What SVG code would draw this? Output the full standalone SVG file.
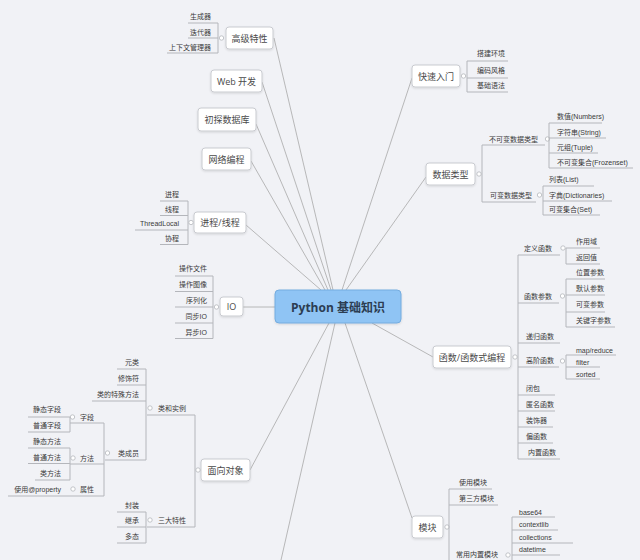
<svg xmlns="http://www.w3.org/2000/svg" width="640" height="560" viewBox="0 0 640 560">
<defs>
<style>
.topic{fill:#ffffff;stroke:#c9cbd0;stroke-width:1}
.tt{font-family:"Open Sans","Noto Sans CJK SC",sans-serif;font-size:9px;fill:#4a4a4a;text-anchor:middle;dominant-baseline:central}
.leaf{font-family:"Liberation Sans","Noto Sans CJK SC",sans-serif;font-size:7px;fill:#3a3a3a;dominant-baseline:central}
.l{text-anchor:end}
.r{text-anchor:start}
.ul{fill:none;stroke:#b4b6bb;stroke-width:1}
.cn{fill:none;stroke:#a8a8a8;stroke-width:0.8}
.knob{fill:#ffffff;stroke:#b4b6bb;stroke-width:0.8}
</style>
<filter id="sh" x="-20%" y="-20%" width="140%" height="150%">
<feDropShadow dx="0" dy="1" stdDeviation="0.8" flood-color="#000" flood-opacity="0.12"/>
</filter>
</defs>
<rect width="640" height="560" fill="#f1f2f6"/>

<g id="connectors">
<path class="cn" d="M274 38 L333 290"/>
<path class="cn" d="M262 82 L331 290"/>
<path class="cn" d="M256 124 L328 290"/>
<path class="cn" d="M251 161 L325 290"/>
<path class="cn" d="M246 225 L321 290"/>
<path class="cn" d="M243 307 L275 307"/>
<path class="cn" d="M250 470 L329 323"/>
<path class="cn" d="M335 323 L281 560"/>
<path class="cn" d="M412 78 L342 290"/>
<path class="cn" d="M426 177 L346 290"/>
<path class="cn" d="M372 323 L433 357"/>
<path class="cn" d="M345 323 L412 518"/>
</g>

<g id="center">
<rect x="275" y="290" width="126" height="33" rx="4" fill="#8fc4f4" stroke="#74acdf" stroke-width="1" filter="url(#sh)"/>
<text x="338" y="307" style="font-family:'Open Sans','Noto Sans CJK SC',sans-serif;font-size:12px;font-weight:bold;fill:#2c3d52;text-anchor:middle;dominant-baseline:central">Python 基础知识</text>
</g>

<g id="gaoji">
<rect class="topic" x="226" y="27" width="47" height="22" rx="3" filter="url(#sh)"/>
<text class="tt" x="249.5" y="38">高级特性</text>
<path class="ul" d="M188 23H218M188 38H218M167 53H218M218 23V53"/>
<circle class="knob" cx="221.5" cy="38" r="2.2"/>
<text class="leaf l" x="211" y="16">生成器</text>
<text class="leaf l" x="211" y="32">迭代器</text>
<text class="leaf l" x="211" y="47">上下文管理器</text>
</g>

<g id="web">
<rect class="topic" x="211" y="70" width="51" height="22" rx="3" filter="url(#sh)"/>
<text class="tt" x="236.5" y="81">Web 开发</text>
</g>

<g id="db">
<rect class="topic" x="198" y="108" width="58" height="23" rx="3" filter="url(#sh)"/>
<text class="tt" x="227" y="119.5">初探数据库</text>
</g>

<g id="net">
<rect class="topic" x="202" y="148" width="49" height="22" rx="3" filter="url(#sh)"/>
<text class="tt" x="226.5" y="159">网络编程</text>
</g>

<g id="proc">
<rect class="topic" x="194" y="212" width="52" height="21" rx="3" filter="url(#sh)"/>
<text class="tt" x="220" y="222.5">进程/线程</text>
<path class="ul" d="M160 201H188M160 215.5H188M135 230H188M160 244.5H188M188 201V244.5"/>
<circle class="knob" cx="191" cy="222.5" r="2.2"/>
<text class="leaf l" x="179" y="194">进程</text>
<text class="leaf l" x="179" y="209">线程</text>
<text class="leaf l" x="179" y="223.5">ThreadLocal</text>
<text class="leaf l" x="179" y="238">协程</text>
</g>

<g id="io">
<rect class="topic" x="220" y="297" width="23" height="19" rx="3" filter="url(#sh)"/>
<text class="tt" x="231.5" y="306.5">IO</text>
<path class="ul" d="M175 276H213M175 291.5H213M175 307H213M175 323H213M175 338.5H213M213 276V338.5"/>
<circle class="knob" cx="216.5" cy="307" r="2.2"/>
<text class="leaf l" x="207" y="268.5">操作文件</text>
<text class="leaf l" x="207" y="284">操作图像</text>
<text class="leaf l" x="207" y="300">序列化</text>
<text class="leaf l" x="207" y="316">同步IO</text>
<text class="leaf l" x="207" y="332">异步IO</text>
</g>

<g id="oop">
<rect class="topic" x="201" y="459" width="49" height="22" rx="3" filter="url(#sh)"/>
<text class="tt" x="225.5" y="470">面向对象</text>
<path class="ul" d="M147 415H195M147 527H195M195 415V527"/>
<circle class="knob" cx="198" cy="470" r="2.2"/>
<text class="leaf l" x="186" y="408">类和实例</text>
<circle class="knob" cx="150" cy="408" r="2.2"/>
<text class="leaf l" x="186" y="520">三大特性</text>
<circle class="knob" cx="150" cy="520" r="2.2"/>
<path class="ul" d="M117 369H146M117 385H146M92 401H146M105 460H146M146 369V460"/>
<text class="leaf l" x="139" y="362.5">元类</text>
<text class="leaf l" x="139" y="378.5">修饰符</text>
<text class="leaf l" x="139" y="394">类的特殊方法</text>
<text class="leaf l" x="139" y="453">类成员</text>
<circle class="knob" cx="107.5" cy="453" r="2.2"/>
<path class="ul" d="M70 423H104M70 464H104M68 496H104M104 423V496"/>
<text class="leaf l" x="94" y="417">字段</text>
<circle class="knob" cx="72.5" cy="417" r="2.2"/>
<text class="leaf l" x="94" y="458">方法</text>
<circle class="knob" cx="73" cy="458" r="2.2"/>
<text class="leaf l" x="94" y="489">属性</text>
<circle class="knob" cx="73" cy="489" r="2.2"/>
<path class="ul" d="M28 417H70M28 432H70M70 417V432"/>
<text class="leaf l" x="61" y="409.5">静态字段</text>
<text class="leaf l" x="61" y="425.5">普通字段</text>
<path class="ul" d="M28 448H70M28 463.5H70M35 480H70M70 448V480"/>
<text class="leaf l" x="61" y="441.5">静态方法</text>
<text class="leaf l" x="61" y="457.5">普通方法</text>
<text class="leaf l" x="61" y="473.5">类方法</text>
<path class="ul" d="M8 496H68"/>
<text class="leaf l" x="61" y="489">使用@property</text>
<path class="ul" d="M117 512H146M117 527H146M117 543H146M146 512V543"/>
<text class="leaf l" x="139" y="505">封装</text>
<text class="leaf l" x="139" y="520">继承</text>
<text class="leaf l" x="139" y="536.5">多态</text>
</g>

<g id="quick">
<rect class="topic" x="412" y="65" width="48" height="22" rx="3" filter="url(#sh)"/>
<text class="tt" x="436" y="76">快速入门</text>
<path class="ul" d="M467 61H508M467 78H508M467 92H508M467 61V92"/>
<circle class="knob" cx="463.5" cy="76" r="2.2"/>
<text class="leaf r" x="477" y="53.5">搭建环境</text>
<text class="leaf r" x="477" y="70">编码风格</text>
<text class="leaf r" x="477" y="85.5">基础语法</text>
</g>

<g id="dtype">
<rect class="topic" x="426" y="163" width="49" height="22" rx="3" filter="url(#sh)"/>
<text class="tt" x="450.5" y="174">数据类型</text>
<circle class="knob" cx="479" cy="174" r="2.2"/>
<path class="ul" d="M482 145H545M482 202H536M482 145V202"/>
<text class="leaf r" x="489" y="139">不可变数据类型</text>
<circle class="knob" cx="547.5" cy="139" r="2.2"/>
<text class="leaf r" x="490" y="195">可变数据类型</text>
<circle class="knob" cx="539.5" cy="195" r="2.2"/>
<path class="ul" d="M549 123H602M549 138H606M549 153H598M549 168H633M549 123V168"/>
<text class="leaf r" x="557" y="116.5">数值(Numbers)</text>
<text class="leaf r" x="557" y="132">字符串(String)</text>
<text class="leaf r" x="557" y="147.5">元组(Tuple)</text>
<text class="leaf r" x="557" y="162.5">不可变集合(Frozenset)</text>
<path class="ul" d="M543 186H594M543 201H612M543 215H600M543 186V215"/>
<text class="leaf r" x="549" y="179">列表(List)</text>
<text class="leaf r" x="549" y="195">字典(Dictionaries)</text>
<text class="leaf r" x="549" y="209.5">可变集合(Set)</text>
</g>

<g id="func">
<rect class="topic" x="433" y="346" width="78" height="22" rx="3" filter="url(#sh)"/>
<text class="tt" x="472" y="357">函数/函数式编程</text>
<circle class="knob" cx="515" cy="357" r="2.2"/>
<path class="ul" d="M518 255H560M518 303H559M518 343H560M518 367H559M518 395H555M518 411H555M518 427H553M518 443H553M518 459H560M518 255V459"/>
<text class="leaf r" x="524" y="248">定义函数</text>
<circle class="knob" cx="563" cy="248" r="2.2"/>
<text class="leaf r" x="524" y="296">函数参数</text>
<circle class="knob" cx="562.5" cy="296" r="2.2"/>
<text class="leaf r" x="526" y="336">递归函数</text>
<text class="leaf r" x="526" y="360.5">高阶函数</text>
<circle class="knob" cx="562.5" cy="361" r="2.2"/>
<text class="leaf r" x="526" y="388">闭包</text>
<text class="leaf r" x="526" y="404">匿名函数</text>
<text class="leaf r" x="526" y="420.5">装饰器</text>
<text class="leaf r" x="526" y="436">偏函数</text>
<text class="leaf r" x="528" y="452">内置函数</text>
<path class="ul" d="M566 248H600M566 264H600M566 248V264"/>
<text class="leaf r" x="576" y="241">作用域</text>
<text class="leaf r" x="576" y="257">返回值</text>
<path class="ul" d="M566 279H605M566 295H605M566 312H605M566 327H615M566 279V327"/>
<text class="leaf r" x="576" y="272">位置参数</text>
<text class="leaf r" x="576" y="288">默认参数</text>
<text class="leaf r" x="576" y="304.5">可变参数</text>
<text class="leaf r" x="576" y="320">关键字参数</text>
<path class="ul" d="M566 355H616M566 367H600M566 379H600M566 355V379"/>
<text class="leaf r" x="576" y="350">map/reduce</text>
<text class="leaf r" x="576" y="362">filter</text>
<text class="leaf r" x="576" y="374">sorted</text>
</g>

<g id="module">
<rect class="topic" x="412" y="516" width="31" height="22" rx="3" filter="url(#sh)"/>
<text class="tt" x="427.5" y="527">模块</text>
<circle class="knob" cx="447" cy="527" r="2.2"/>
<path class="ul" d="M449 489H492M449 505H498M449 489V560"/>
<text class="leaf r" x="459" y="482">使用模块</text>
<text class="leaf r" x="459" y="498">第三方模块</text>
<text class="leaf r" x="456" y="554.5">常用内置模块</text>
<circle class="knob" cx="508" cy="555" r="2.2"/>
<path class="ul" d="M512 517H555M512 530H558M512 543H573M512 555H560M512 517V560"/>
<text class="leaf r" x="519" y="512">base64</text>
<text class="leaf r" x="519" y="524.5">contextlib</text>
<text class="leaf r" x="519" y="537">collections</text>
<text class="leaf r" x="519" y="549.5">datetime</text>
</g>
</svg>
